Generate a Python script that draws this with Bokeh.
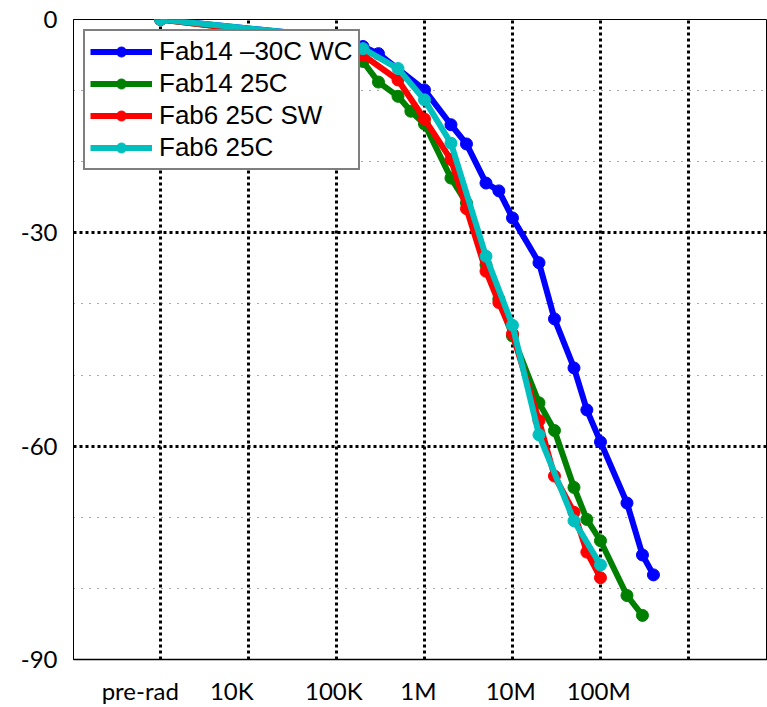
from bokeh.plotting import figure
from bokeh.models import FixedTicker, Grid
from bokeh.embed import file_html
from bokeh.resources import INLINE

# ---- data (dose in rad, delta in %) ----
dose_blue = [1e3, 1e5, 2e5, 3e5, 1e6, 2e6, 3e6, 5e6, 7e6, 1e7, 2e7, 3e7, 5e7, 7e7, 1e8, 2e8, 3e8, 4e8]
val_blue = [0, -2.5, -3.8, -4.8, -9.9, -14.8, -17.5, -23.0, -24.1, -27.9, -34.2, -42.1, -49.0, -54.9, -59.4, -68.0, -75.3, -78.1]

dose_green = [1e3, 1e5, 2e5, 3e5, 5e5, 7e5, 1e6, 2e6, 3e6, 5e6, 7e6, 1e7, 2e7, 3e7, 5e7, 7e7, 1e8, 2e8, 3e8]
val_green = [0, -3.0, -5.9, -8.8, -10.8, -12.9, -14.7, -22.3, -25.8, -34.5, -39.3, -44.5, -53.9, -57.8, -65.8, -70.3, -73.3, -81.0, -83.8]

dose_red = [1e3, 1e5, 2e5, 5e5, 1e6, 2e6, 3e6, 5e6, 7e6, 1e7, 2e7, 3e7, 5e7, 7e7, 1e8]
val_red = [0, -3.0, -5.0, -8.5, -14.0, -19.7, -26.6, -35.4, -39.8, -44.2, -56.4, -64.2, -69.3, -74.9, -78.5]

dose_cyan = [1e3, 1e5, 2e5, 5e5, 1e6, 2e6, 5e6, 1e7, 2e7, 5e7, 1e8]
val_cyan = [0, -2.5, -4.1, -6.9, -11.3, -17.4, -33.3, -43.0, -58.4, -70.5, -76.7]

series_names = ["Fab14 \u201330C WC", "Fab14 25C", "Fab6 25C SW", "Fab6 25C"]
series_colors = ["#0000FF", "#008000", "#FF0000", "#00BFBF"]

tick_labels = ["pre-rad", "10K", "100K", "1M", "10M", "100M"]
tick_values = [1e3, 1e4, 1e5, 1e6, 1e7, 1e8]
# small label shifts (in decades) to mimic the original label placement
label_shift = [-0.23, -0.19, -0.03, -0.07, -0.02, -0.02]
grid_x = [1e3, 1e4, 1e5, 1e6, 1e7, 1e8, 1e9]
y_ticks = [-90, -60, -30, 0]
y_tick_labels = ["-90", "-60", "-30", "0"]
y_major_grid = [-30, -60]
y_minor_grid = [-80, -70, -50, -40, -20, -10]

p = figure(width=767, height=707, x_axis_type="log",
           x_range=(10 ** 2.0114, 10 ** 9.898), y_range=(-90, 0),
           output_backend="svg", toolbar_location=None,
           min_border_left=73, min_border_top=19, min_border_bottom=45,
           min_border_right=0)

p.background_fill_color = "white"
p.outline_line_color = "black"
p.outline_line_width = 1

# grids
p.xgrid.ticker = FixedTicker(ticks=grid_x)
p.xgrid.grid_line_color = "black"
p.xgrid.grid_line_width = 3
p.xgrid.grid_line_dash = "3 3"
p.ygrid.ticker = FixedTicker(ticks=y_minor_grid)
p.ygrid.grid_line_color = "#555555"
p.ygrid.grid_line_width = 1
p.ygrid.grid_line_dash = "1 7"
g2 = Grid(dimension=1, ticker=FixedTicker(ticks=y_major_grid),
          grid_line_color="black", grid_line_width=3, grid_line_dash="3 3")
p.add_layout(g2)

# axes
pos = [v * 10 ** s for v, s in zip(tick_values, label_shift)]
p.xaxis.ticker = FixedTicker(ticks=pos)
p.xaxis.major_label_overrides = {pp: lab for pp, lab in zip(pos, tick_labels)}
p.yaxis.ticker = FixedTicker(ticks=y_ticks)
p.yaxis.major_label_overrides = {t: lab for t, lab in zip(y_ticks, y_tick_labels)}
for ax in (p.xaxis[0], p.yaxis[0]):
    ax.major_tick_in = 0
    ax.major_tick_out = 0
    ax.minor_tick_in = 0
    ax.minor_tick_out = 0
    ax.axis_line_color = "black"
    ax.major_label_text_font = "Lato"
    ax.major_label_text_font_size = "24px"
    ax.major_label_text_color = "black"
p.xaxis.axis_line_width = 1.5
p.yaxis.axis_line_width = 1
p.xaxis.major_label_standoff = 16
p.yaxis.major_label_standoff = 16

doses = [dose_blue, dose_green, dose_red, dose_cyan]
vals = [val_blue, val_green, val_red, val_cyan]
for d, v, name, col in zip(doses, vals, series_names, series_colors):
    p.line(d, v, line_color=col, line_width=6, legend_label=name)
    p.scatter(d, v, marker="circle", size=12, fill_color=col, line_color=col,
              legend_label=name)

lg = p.legend[0]
lg.location = "top_left"
lg.margin = 10
lg.padding = 5
lg.spacing = 1
lg.glyph_width = 62
lg.glyph_height = 25
lg.label_height = 25
lg.label_standoff = 7
lg.label_text_font = "Liberation Sans"
lg.label_text_font_size = "26px"
lg.label_text_color = "black"
lg.border_line_color = "black"
lg.border_line_width = 2
lg.background_fill_alpha = 1.0

open("out.html", "w").write(file_html(p, INLINE))
